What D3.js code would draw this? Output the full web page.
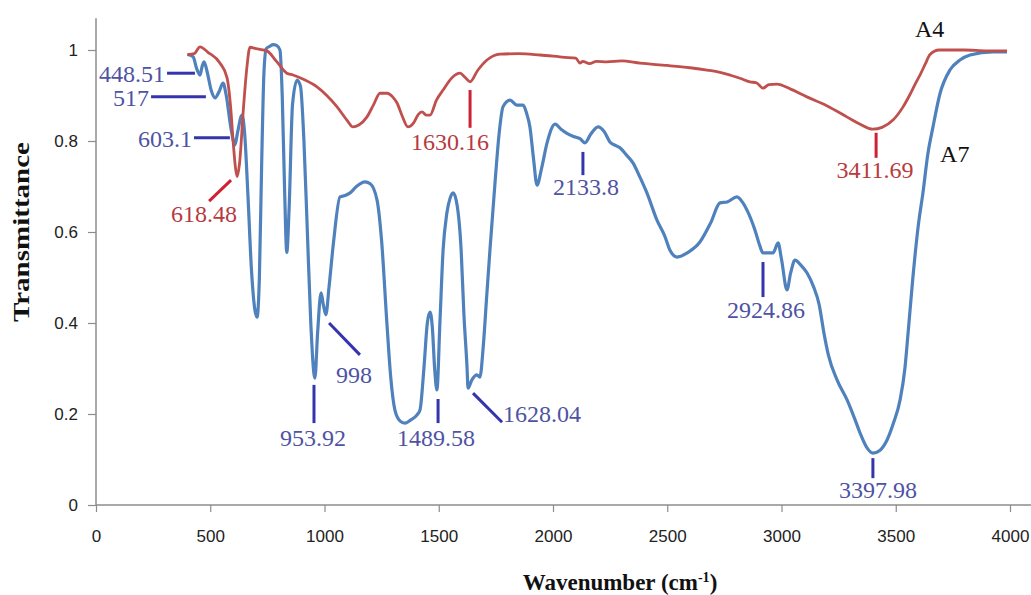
<!DOCTYPE html>
<html>
<head>
<meta charset="utf-8">
<script src="https://cdn.jsdelivr.net/npm/d3@7"></script>
<style>
  body { margin: 0; background: #fff; }
  svg { display: block; }
  .tick text { font-family: "Liberation Sans", Arial, sans-serif; font-size: 17px; fill: #222; }
  .ann { font-family: "Liberation Serif", "Times New Roman", serif; font-size: 24px; }
</style>
</head>
<body>
<div id="chart"></div>
<script>
// A4 spectrum (wavenumber, transmittance)
const a4Wavenumber = [400, 430, 455, 490, 543, 573, 590, 600, 612, 618, 628, 645, 660, 674, 700, 748, 790, 835, 862, 910,
  967, 1010, 1055, 1098, 1125, 1150, 1186, 1215, 1243, 1274, 1300, 1317, 1340, 1365, 1390, 1410, 1427, 1445, 1462, 1490,
  1519, 1560, 1593, 1615, 1637, 1670, 1711, 1768, 1850, 1943, 2050, 2100, 2118, 2130, 2160, 2190, 2236, 2300, 2381, 2500,
  2600, 2674, 2731, 2780, 2818, 2862, 2890, 2919, 2945, 2980, 3040, 3111, 3200, 3286, 3340, 3400, 3440, 3488, 3532, 3560,
  3590, 3606, 3630, 3650, 3690, 3724, 3800, 3900, 3987]
const a4Transmittance = [0.99, 0.992, 1.007, 0.995, 0.971, 0.94, 0.87, 0.80, 0.735, 0.722, 0.75, 0.87, 0.96, 1.006, 1.003, 0.998, 0.975, 0.949, 0.945, 0.935,
  0.919, 0.9, 0.875, 0.846, 0.831, 0.835, 0.853, 0.88, 0.905, 0.905, 0.896, 0.884, 0.855, 0.831, 0.84, 0.858, 0.864, 0.857, 0.857, 0.89,
  0.912, 0.94, 0.949, 0.94, 0.93, 0.955, 0.978, 0.991, 0.992, 0.989, 0.984, 0.982, 0.971, 0.975, 0.97, 0.975, 0.974, 0.976, 0.971, 0.966,
  0.961, 0.956, 0.951, 0.944, 0.938, 0.93, 0.928, 0.916, 0.924, 0.925, 0.914, 0.897, 0.877, 0.853, 0.838, 0.826, 0.83, 0.846, 0.875, 0.9,
  0.93, 0.945, 0.97, 0.99, 1.0, 1.0, 1.0, 0.998, 0.998]

// A7 spectrum
const a7Wavenumber = [400, 425, 440, 455, 465, 473, 485, 505, 521, 540, 556, 570, 590, 608, 620, 639, 650, 665, 680, 695,
  705, 715, 725, 735, 745, 760, 775, 790, 805, 815, 825, 835, 845, 860, 880, 895, 910, 925, 940, 958,
  970, 985, 995, 1006, 1020, 1040, 1068, 1090, 1112, 1140, 1177, 1200, 1230, 1250, 1273, 1290, 1308, 1330, 1352, 1375,
  1405, 1418, 1435, 1450, 1462, 1472, 1482, 1492, 1505, 1519, 1535, 1550, 1563, 1580, 1598, 1610, 1624, 1628, 1645, 1667,
  1680, 1695, 1710, 1724, 1745, 1765, 1781, 1812, 1842, 1869, 1885, 1899, 1915, 1930, 1950, 1974, 2009, 2035, 2061, 2090,
  2118, 2140, 2165, 2197, 2225, 2249, 2275, 2293, 2320, 2350, 2381, 2411, 2455, 2490, 2512, 2543, 2590, 2643, 2690, 2731,
  2762, 2805, 2830, 2849, 2884, 2905, 2919, 2963, 2985, 3000, 3024, 3040, 3059, 3085, 3112, 3140, 3165, 3185, 3205, 3243,
  3287, 3320, 3344, 3375, 3400, 3430, 3462, 3490, 3519, 3540, 3554, 3575, 3600, 3619, 3640, 3663, 3694, 3737, 3781, 3825,
  3926, 3987]
const a7Transmittance = [0.99, 0.985, 0.96, 0.945, 0.965, 0.974, 0.955, 0.91, 0.895, 0.91, 0.927, 0.9, 0.83, 0.791, 0.82, 0.857, 0.82, 0.68, 0.52, 0.43,
  0.413, 0.5, 0.75, 0.95, 1.003, 1.008, 1.012, 1.01, 1.0, 0.9, 0.7, 0.555, 0.65, 0.88, 0.934, 0.92, 0.8, 0.6, 0.4, 0.279,
  0.38, 0.466, 0.44, 0.418, 0.48, 0.58, 0.677, 0.68, 0.686, 0.7, 0.71, 0.706, 0.67, 0.58, 0.4, 0.28, 0.209, 0.185, 0.18, 0.186,
  0.198, 0.209, 0.3, 0.4, 0.424, 0.39, 0.3, 0.253, 0.4, 0.56, 0.64, 0.675, 0.686, 0.66, 0.56, 0.42, 0.3, 0.257, 0.275, 0.286,
  0.281, 0.35, 0.46, 0.56, 0.7, 0.82, 0.875, 0.89, 0.879, 0.879, 0.86, 0.831, 0.76, 0.703, 0.74, 0.796, 0.837, 0.826, 0.817, 0.81,
  0.805, 0.796, 0.815, 0.831, 0.82, 0.798, 0.79, 0.785, 0.77, 0.752, 0.72, 0.686, 0.626, 0.59, 0.56, 0.545, 0.555, 0.578, 0.62, 0.664,
  0.666, 0.677, 0.665, 0.648, 0.604, 0.57, 0.554, 0.554, 0.576, 0.54, 0.473, 0.51, 0.538, 0.527, 0.51, 0.48, 0.44, 0.38, 0.33, 0.275,
  0.231, 0.19, 0.158, 0.125, 0.114, 0.12, 0.143, 0.18, 0.231, 0.3, 0.378, 0.5, 0.62, 0.686, 0.77, 0.831, 0.905, 0.956, 0.978, 0.989,
  0.996, 0.996]

const xTicks = [0, 500, 1000, 1500, 2000, 2500, 3000, 3500, 4000]
const yTicks = [0, 0.2, 0.4, 0.6, 0.8, 1]

// peak labels: text, series, leader line [wn1, t1, wn2, t2], text position [wn, t], anchor
const peakLabels = ['448.51', '517', '603.1', '618.48', '1630.16', '953.92', '998', '1489.58', '1628.04', '2133.8', '2924.86', '3411.69', '3397.98']
const peakSeries = ['A7', 'A7', 'A7', 'A4', 'A4', 'A7', 'A7', 'A7', 'A7', 'A7', 'A7', 'A4', 'A7']
const peakLeaders = [
  [311, 0.949, 433, 0.949], [241, 0.897, 481, 0.897], [429, 0.807, 586, 0.807], [495, 0.668, 591, 0.714],
  [1637, 0.912, 1637, 0.829], [954, 0.264, 954, 0.180], [1020, 0.400, 1155, 0.330], [1497, 0.233, 1497, 0.180],
  [1650, 0.246, 1777, 0.182], [2131, 0.776, 2131, 0.725], [2919, 0.534, 2919, 0.457], [3414, 0.818, 3414, 0.763],
  [3400, 0.103, 3400, 0.059]]
const peakTextPos = [[302, 0.930], [232, 0.877], [420, 0.787], [473, 0.622], [1549, 0.780], [950, 0.130], [1050, 0.268],
  [1488, 0.130], [1781, 0.182], [2144, 0.681], [2932, 0.411], [3409, 0.719], [3422, 0.015]]
const peakAnchor = ['end', 'end', 'end', 'middle', 'middle', 'middle', 'start', 'middle', 'start', 'middle', 'middle', 'middle', 'middle']

const seriesNames = ['A4', 'A7']
const seriesNamePos = [[3584, 1.029], [3694, 0.754]]

async function draw() {
  const dimensions = {
    width: 1031,
    height: 595,
  }

  const svg = d3.select('#chart')
    .append('svg')
    .attr('width', dimensions.width)
    .attr('height', dimensions.height)

  // Scales
  const xScale = d3.scaleLinear().domain([0, 4000]).range([96, 1010])
  const yScale = d3.scaleLinear().domain([0, 1]).range([505, 50])

  const colors = {
    A4: { line: '#c0504d', text: '#b73a3e', lead: '#cc2233' },
    A7: { line: '#4f81bd', text: '#4e53a3', lead: '#3434ad' },
  }

  // Axes
  const xAxis = d3.axisBottom(xScale).tickValues(xTicks).tickSize(7).tickSizeOuter(0).tickPadding(18)
    .tickFormat(d3.format('d'))
  const yAxis = d3.axisLeft(yScale).tickValues(yTicks).tickSize(8).tickSizeOuter(0).tickPadding(10)
    .tickFormat(d => d3.format('')(d))

  const xAxisGroup = svg.append('g')
    .attr('transform', `translate(0, ${yScale(0)})`)
    .call(xAxis)
  xAxisGroup.select('.domain').remove()
  svg.append('line')
    .attr('x1', xScale(0)).attr('x2', dimensions.width)
    .attr('y1', yScale(0)).attr('y2', yScale(0))
    .attr('stroke', '#8c8c8c').attr('stroke-width', 1.5)

  const yAxisGroup = svg.append('g')
    .attr('transform', `translate(${xScale(0)}, 0)`)
    .call(yAxis)
  yAxisGroup.select('.domain').remove()
  svg.append('line')
    .attr('x1', xScale(0)).attr('x2', xScale(0))
    .attr('y1', yScale(0)).attr('y2', yScale(1.07))
    .attr('stroke', '#8c8c8c').attr('stroke-width', 1.5)

  svg.selectAll('.tick line').attr('stroke', '#8c8c8c').attr('stroke-width', 1.2)

  // Series
  const line = d3.line()
    .x(d => xScale(d[0]))
    .y(d => yScale(d[1]))
    .curve(d3.curveMonotoneX)

  const a4 = a4Wavenumber.map((w, i) => [w, a4Transmittance[i]])
  const a7 = a7Wavenumber.map((w, i) => [w, a7Transmittance[i]])

  svg.append('path')
    .datum(a7)
    .attr('d', line)
    .attr('fill', 'none')
    .attr('stroke', colors.A7.line)
    .attr('stroke-width', 3.2)
    .attr('stroke-linejoin', 'round')

  svg.append('path')
    .datum(a4)
    .attr('d', line)
    .attr('fill', 'none')
    .attr('stroke', colors.A4.line)
    .attr('stroke-width', 2.8)
    .attr('stroke-linejoin', 'round')

  // Peak labels
  const peaks = peakLabels.map((label, i) => ({
    label,
    series: peakSeries[i],
    lead: peakLeaders[i],
    pos: peakTextPos[i],
    anchor: peakAnchor[i],
  }))

  svg.append('g').selectAll('line')
    .data(peaks)
    .join('line')
    .attr('x1', d => xScale(d.lead[0]))
    .attr('y1', d => yScale(d.lead[1]))
    .attr('x2', d => xScale(d.lead[2]))
    .attr('y2', d => yScale(d.lead[3]))
    .attr('stroke', d => colors[d.series].lead)
    .attr('stroke-width', 3)

  svg.append('g').selectAll('text')
    .data(peaks)
    .join('text')
    .attr('class', 'ann')
    .attr('x', d => xScale(d.pos[0]))
    .attr('y', d => yScale(d.pos[1]))
    .attr('text-anchor', d => d.anchor)
    .attr('fill', d => colors[d.series].text)
    .text(d => d.label)

  svg.append('g').selectAll('text')
    .data(seriesNames)
    .join('text')
    .attr('class', 'ann')
    .attr('x', (d, i) => xScale(seriesNamePos[i][0]))
    .attr('y', (d, i) => yScale(seriesNamePos[i][1]))
    .attr('fill', '#111')
    .text(d => d)

  // Axis titles
  svg.append('text')
    .attr('transform', `translate(29, 232) rotate(-90)`)
    .attr('text-anchor', 'middle')
    .attr('textLength', 180)
    .attr('lengthAdjust', 'spacingAndGlyphs')
    .style('font-family', '"Liberation Serif", "Times New Roman", serif')
    .style('font-weight', 'bold')
    .style('font-size', '23px')
    .attr('fill', '#111')
    .text('Transmittance')

  const xTitle = svg.append('text')
    .attr('x', 620)
    .attr('y', 590)
    .attr('text-anchor', 'middle')
    .style('font-family', '"Liberation Serif", "Times New Roman", serif')
    .style('font-weight', 'bold')
    .style('font-size', '23px')
    .attr('fill', '#111')
  xTitle.append('tspan').text('Wavenumber (cm')
  xTitle.append('tspan').attr('dy', -8).style('font-size', '14px').text('-1')
  xTitle.append('tspan').attr('dy', 8).text(')')
}

draw()
</script>
</body>
</html>
